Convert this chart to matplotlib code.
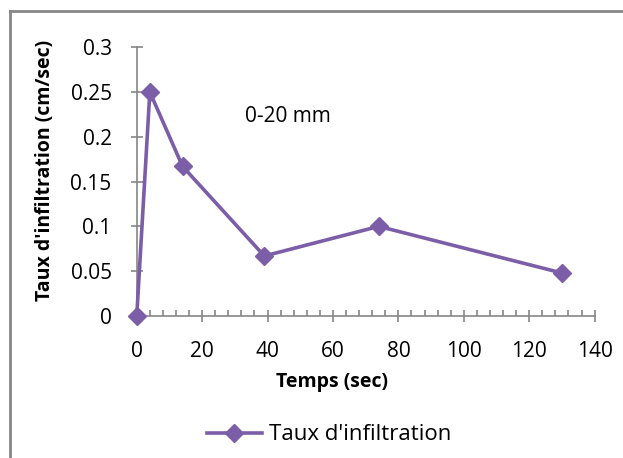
import matplotlib
matplotlib.use("Agg")
import matplotlib.pyplot as plt
from matplotlib.lines import Line2D
from matplotlib.ticker import MultipleLocator

temps = [0, 4, 14, 39, 74, 130]
taux = [0, 0.25, 0.167, 0.067, 0.1, 0.048]
y_ticks = [0, 0.05, 0.1, 0.15, 0.2, 0.25, 0.3]
y_tick_labels = ["0", "0.05", "0.1", "0.15", "0.2", "0.25", "0.3"]
series_label = "Taux d'infiltration"
annot = "0-20 mm"

plt.rcParams["font.family"] = ["Open Sans", "DejaVu Sans"]
purple = "#7b5ea7"
axis_grey = "#868686"

fig = plt.figure(figsize=(6.23, 4.58), dpi=100)
ax = fig.add_axes([0.2195, 0.31, 0.735, 0.587])

ax.plot(temps, taux, color=purple, lw=2.6, marker="D", ms=9.5,
        mfc=purple, mec=purple, label=series_label, clip_on=False, zorder=5)

ax.xaxis.set_major_locator(MultipleLocator(20))
ax.xaxis.set_minor_locator(MultipleLocator(4))
ax.set_yticks(y_ticks, y_tick_labels)
ax.set_xlim(0, 140)
ax.set_ylim(0, 0.3)

for s in ["top", "right"]:
    ax.spines[s].set_visible(False)
for s in ["left", "bottom"]:
    ax.spines[s].set_color(axis_grey)
    ax.spines[s].set_linewidth(1.2)

ax.tick_params(axis="both", which="major", direction="inout", length=8,
               width=1.2, color=axis_grey, labelsize=15, labelcolor="black")
ax.tick_params(axis="x", which="minor", direction="in", length=4,
               width=1.2, color=axis_grey)
ax.tick_params(axis="x", which="major", pad=14)
ax.tick_params(axis="y", which="major", pad=14)

# axis titles placed like the Excel chart
fig.text(45 / 623, 1 - 170 / 458, "Taux d'infiltration (cm/sec)", fontsize=14,
         fontweight="bold", rotation=90, ha="center", va="center")
fig.text(332 / 623, 1 - 382 / 458, "Temps (sec)", fontsize=14,
         fontweight="bold", ha="center", va="center")

ax.text(33, 0.223, annot, fontsize=15, ha="left", va="center")

ax.legend(loc="center", bbox_to_anchor=(329 / 623, 1 - 435 / 458),
          bbox_transform=fig.transFigure, frameon=False, fontsize=16,
          handlelength=2.5, handletextpad=0.3, borderaxespad=0)

# chart border (clipped at right and bottom like the original screenshot)
fig.add_artist(Line2D([10 / 623, 1.0], [1 - 11 / 458, 1 - 11 / 458],
                      transform=fig.transFigure, color=axis_grey, lw=2))
fig.add_artist(Line2D([10 / 623, 10 / 623], [0.0, 1 - 11 / 458],
                      transform=fig.transFigure, color=axis_grey, lw=2))

fig.savefig("out.png", dpi=100)
